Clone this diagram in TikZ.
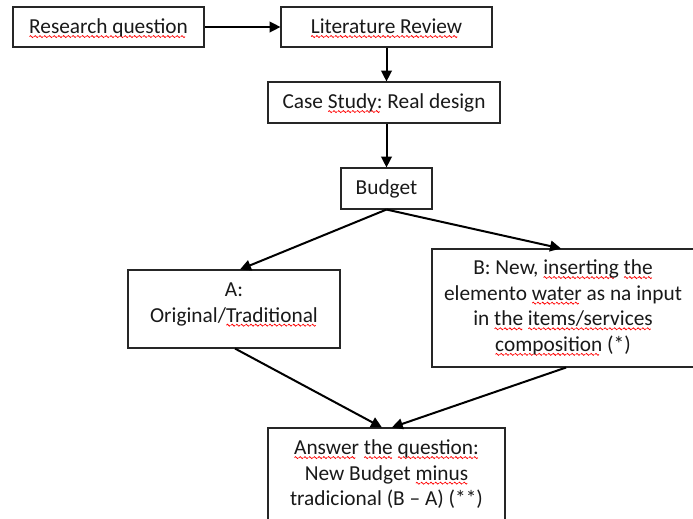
\documentclass[tikz,border=0pt]{standalone}
\usepackage{fontspec}
\setmainfont{Carlito}
\usetikzlibrary{arrows.meta,calc,fit}

% one period of the red wavy underline used by a spell checker
\newsavebox\wavebox
\newsavebox\wordbox
% red wavy underline under a word
\newcommand\spellmark[1]{\sbox\wordbox{#1}%
  \rlap{\smash{\raisebox{-3.4pt}{\hbox to\wd\wordbox{\leaders\copy\wavebox\hfill}}}}\usebox\wordbox}
% first-line strut so that every text starts at the same depth below its box top
\newcommand\firstline{\rule{0pt}{15pt}}

\begin{document}
\sbox\wavebox{\begin{pgfpicture}%
  \pgfsetlinewidth{0.55pt}\pgfsetstrokecolor{red}%
  \pgfpathmoveto{\pgfpoint{0pt}{0pt}}%
  \pgfpathcurveto{\pgfpoint{0.75pt}{1pt}}{\pgfpoint{0.75pt}{1pt}}{\pgfpoint{1.5pt}{0pt}}%
  \pgfpathcurveto{\pgfpoint{2.25pt}{-1pt}}{\pgfpoint{2.25pt}{-1pt}}{\pgfpoint{3pt}{0pt}}%
  \pgfusepath{stroke}%
  \pgfpathrectangle{\pgfpoint{0pt}{-1pt}}{\pgfpoint{3pt}{2pt}}%
  \pgfusepath{use as bounding box}%
\end{pgfpicture}}%
\begin{tikzpicture}[x=0.75pt,y=-0.75pt,
  box/.style={draw=black!85, line width=0.8pt, rectangle, inner sep=0pt},
  txt/.style={inner sep=0pt, align=center, anchor=north,
              font=\fontsize{16}{19.2}\selectfont, text=black!90},
  flow/.style={-{Triangle[length=8.2pt,width=8pt]}, line width=1.5pt, black},
]
\useasboundingbox (0,0) rectangle (693,518);
\clip (0,0) rectangle (693,518);

% boxes
\node[box, fit={(13,7) (204,47)}]    (rq)  {};
\node[box, fit={(281,7) (492,47)}]   (lr)  {};
\node[box, fit={(268,82) (500,123)}] (cs)  {};
\node[box, fit={(341,168) (432,209)}] (bud) {};
\node[box, fit={(128,270) (340,348)}] (A)   {};
\node[box, fit={(432,249) (694,367)}] (B)   {};
\node[box, fit={(268,428) (505,530)}] (ans) {};

% texts, top aligned in their boxes
\node[txt] (rqT)  at ($(rq.north)+(0,7)$)  {\firstline\spellmark{Research question}};
\node[txt] (lrT)  at ($(lr.north)+(0,7)$)  {\firstline\spellmark{Literature Review}};
\node[txt] (csT)  at ($(cs.north)+(0,7)$)  {\firstline Case \spellmark{Study:} Real design};
\node[txt] (budT) at ($(bud.north)+(0,7)$) {\firstline Budget};
\node[txt] (AT)   at ($(A.north)+(0,7)$)   {\firstline A:\\Original/\spellmark{Traditional}};
\node[txt] (BT)   at ($(B.north)+(0,6)$)   {\firstline B: New, \spellmark{inserting} \spellmark{the}\\
  elemento \spellmark{water} as na input\\
  in \spellmark{the} \spellmark{items/services}\\
  \spellmark{composition} (*)};
\node[txt] (ansT) at ($(ans.north)+(0,7)$) {\firstline\spellmark{Answer} \spellmark{the} \spellmark{question:}\\
  New Budget \spellmark{minus}\\
  tradicional (B – A) (**)};

% connectors
\draw[flow] (rq.east) -- (lr.west);
\draw[flow] (lr.south) -- (lr.south |- cs.north);
\draw[flow] (bud.north |- cs.south) -- (bud.north);
\draw[flow] (bud.south) -- ([xshift=4.5pt]A.north);
\draw[flow] (bud.south) -- ([xshift=-1.5pt]B.north);
\draw[flow] ([xshift=0.75pt]A.south) -- ([xshift=-3.4pt]ans.north);
\draw[flow] ([xshift=2.25pt]B.south) -- ([xshift=4pt]ans.north);
\end{tikzpicture}
\end{document}
